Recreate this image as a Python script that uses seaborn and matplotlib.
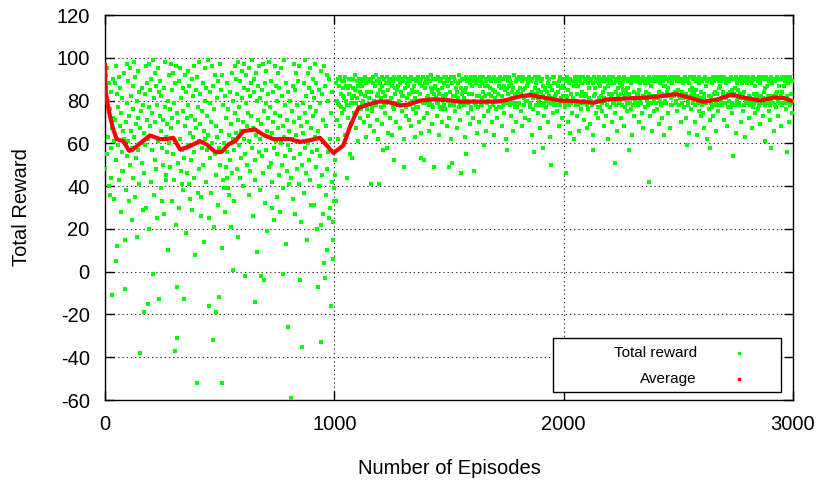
import numpy as np
import pandas as pd
import matplotlib
matplotlib.use("Agg")
import matplotlib.pyplot as plt
import seaborn as sns
from matplotlib.patches import Rectangle
from matplotlib.lines import Line2D

# -----------------------------
# Data (every 2nd episode)
# -----------------------------
# episodes 0..998
reward_early = [
    97, 48, 92, 86, 55, 95, 80, 63, 88, 40, 76, 36, 58, 84, 44, 67, -11, 72, 90, 61,
    34, 88, 71, 96, 52, 5, 83, 12, 77, 59, 91, 43, 68, 86, 28, 74, 47, 56, 81, 66,
    47, 93, 62, 15, -8, 70, 38, 97, 54, 79, 61, 89, 33, 73, 50, 95, 66, 82, 24, 58,
    87, 44, 76, 98, 63, 35, 91, 69, 53, 80, 16, 94, 57, 72, 84, 41, 67, -38, 60, 75,
    51, 86, 29, 78, -19, 65, 46, 83, 59, 96, 30, 71, 88, 62, -15, 97, 77, 20, 85, 68,
    42, 90, 74, 57, 99, -1, 81, 36, 93, 52, 70, 87, 48, 78, 25, 95, 61, 84, -13, 73,
    89, 66, 39, 82, 58, 33, 71, 50, 86, 27, 77, 98, 63, 45, 43, 69, 56, 80, 10, 92,
    60, 76, 49, 97, 67, 85, 33, 72, 55, 93, 79, 43, 88, -37, 22, 96, -31, 74, -7, 51,
    70, 30, 89, 62, 95, 47, 81, 57, 41, 38, 75, 86, -13, 53, 92, 68, 18, 84, 72, 46,
    94, 59, 78, 41, 87, 65, 34, 52, 73, 29, 90, 63, 82, 56, 44, 96, 71, 8, 85, 67,
    -52, 91, 37, 77, 61, 98, 48, 83, 69, 35, 26, 58, 75, 88, 50, 66, 14, 95, 80, 62,
    42, 86, 73, 57, 99, 64, 25, -16, 79, 53, 84, 37, 70, 96, 60, -32, 87, 21, 76, 92,
    55, 68, -19, 45, 81, 63, 89, 31, -12, 58, 97, 50, 85, 66, 11, 92, -52, 43, 78, 39,
    60, 28, 82, 49, 72, 88, 56, 44, 39, 76, 64, 36, 52, 84, 21, 69, 93, 46, 80, 62,
    1, 57, 33, 96, 74, 65, 90, 48, 83, 16, 71, 98, 59, 77, 44, 89, 66, 53, 94, 81,
    70, 40, 86, 62, 97, 55, -2, 79, 92, 68, 50, 85, 74, 36, 95, 61, 82, 47, 88, 73,
    58, 99, 67, 26, 84, 90, 52, -14, 43, 93, 64, 80, 9, 87, 71, 56, 96, 62, 38, 81,
    -2, 69, 54, 85, 46, 97, 75, -4, 88, 32, 79, 94, 57, 66, 19, 83, 72, 49, 98, 63,
    77, 51, 89, 65, 42, 30, 70, 84, 24, 58, 96, 74, 61, 87, 35, 80, 55, 93, 67, 45,
    86, 73, 28, 95, 60, 82, 50, -1, 68, 39, 99, 63, 78, 54, 13, 88, 71, 47, 84, 59,
    -26, 66, 41, 80, 57, -59, 44, 75, 62, 87, 34, 97, 53, 70, 85, 27, 64, 93, 48, 78,
    61, 89, 72, 41, 96, 55, -4, 23, 68, -35, 50, 79, 65, 37, 88, 58, 74, 99, 46, 82,
    70, 15, 93, 60, 86, 52, 77, 95, 43, 67, 31, 84, 56, 90, 73, 31, 81, 63, 97, 49,
    75, 88, 57, 20, -7, 66, 40, 85, 54, 79, 22, 94, -33, 45, 83, 27, 71, 96, 4, -3,
    87, 36, 68, 92, 48, 10, 80, 56, 25, 90, 62, 30, 74, -16, 84, 42, 23, 15, 6, 33,
]

# episodes 1000..2998
reward_late = [
    39, 45, 52, 33, 88, 71, 80, 90, 79, 62, 87, 78, 91, 68, 83, 77, 89, 74, 86, 82,
    89, 76, 81, 91, 64, 87, 80, 44, 78, 72, 86, 90, 78, 83, 55, 87, 69, 79, 81, 53,
    86, 90, 82, 74, 79, 85, 92, 67, 79, 89, 81, 87, 61, 90, 77, 84, 72, 88, 83, 76,
    87, 79, 90, 80, 70, 89, 82, 91, 78, 63, 88, 76, 84, 90, 73, 81, 81, 89, 68, 41,
    90, 84, 77, 75, 91, 88, 80, 66, 87, 79, 92, 78, 89, 71, 82, 83, 62, 90, 41, 88,
    85, 81, 77, 91, 87, 69, 84, 57, 90, 78, 82, 74, 88, 79, 58, 91, 80, 65, 85, 89,
    88, 72, 80, 90, 81, 87, 64, 89, 77, 91, 76, 52, 86, 83, 79, 70, 90, 85, 78, 87,
    91, 79, 80, 67, 88, 84, 90, 75, 82, 89, 82, 62, 49, 86, 91, 78, 77, 73, 88, 81,
    87, 90, 83, 71, 89, 78, 79, 91, 68, 85, 80, 84, 76, 90, 87, 63, 81, 89, 77, 74,
    84, 89, 91, 77, 80, 70, 88, 83, 90, 65, 53, 87, 80, 79, 91, 72, 52, 88, 86, 79,
    90, 81, 74, 88, 82, 91, 78, 66, 89, 80, 86, 92, 78, 84, 69, 77, 90, 49, 83, 87,
    86, 81, 90, 79, 73, 85, 91, 79, 83, 64, 89, 77, 76, 90, 86, 70, 80, 82, 91, 78,
    88, 76, 81, 91, 83, 89, 68, 87, 80, 90, 72, 49, 78, 84, 91, 62, 51, 88, 79, 82,
    91, 78, 82, 89, 75, 86, 80, 84, 67, 88, 81, 92, 77, 79, 89, 71, 86, 46, 83, 90,
    85, 90, 78, 81, 84, 63, 91, 55, 86, 80, 89, 74, 79, 83, 90, 69, 88, 77, 76, 91,
    87, 83, 89, 72, 47, 80, 91, 79, 88, 78, 65, 90, 82, 77, 89, 82, 70, 87, 91, 79,
    90, 78, 81, 88, 84, 91, 73, 59, 87, 82, 89, 66, 79, 90, 80, 87, 75, 83, 91, 77,
    86, 89, 82, 70, 90, 78, 79, 85, 91, 64, 81, 84, 76, 89, 80, 72, 90, 83, 87, 77,
    89, 80, 91, 77, 86, 82, 68, 90, 78, 87, 74, 85, 91, 80, 62, 79, 86, 57, 89, 83,
    87, 91, 80, 78, 89, 73, 88, 84, 81, 66, 86, 79, 92, 77, 83, 70, 89, 82, 77, 90,
    84, 79, 91, 79, 86, 90, 75, 82, 83, 89, 68, 85, 91, 81, 78, 86, 72, 90, 80, 87,
    90, 80, 82, 88, 71, 91, 77, 79, 89, 83, 64, 84, 90, 76, 81, 83, 56, 91, 86, 78,
    88, 83, 90, 74, 81, 85, 91, 80, 78, 67, 89, 84, 78, 90, 58, 87, 82, 79, 73, 86,
    85, 80, 77, 91, 84, 88, 70, 79, 90, 82, 87, 63, 50, 81, 85, 79, 91, 74, 88, 78,
    91, 82, 80, 88, 83, 78, 75, 87, 84, 89, 68, 79, 91, 78, 86, 81, 72, 90, 82, 87,
    86, 90, 79, 77, 89, 46, 82, 91, 81, 85, 70, 88, 78, 90, 65, 83, 79, 89, 74, 80,
    89, 81, 87, 62, 91, 80, 78, 88, 73, 90, 83, 78, 87, 91, 66, 79, 89, 82, 76, 84,
    84, 88, 91, 79, 80, 71, 89, 82, 90, 83, 67, 78, 88, 76, 91, 81, 86, 69, 89, 80,
    90, 79, 78, 88, 64, 57, 82, 91, 83, 86, 74, 89, 80, 90, 77, 72, 88, 81, 91, 77,
    87, 82, 90, 79, 75, 89, 84, 91, 68, 81, 80, 86, 90, 73, 78, 89, 62, 87, 83, 91,
    88, 90, 77, 81, 89, 83, 70, 91, 79, 80, 88, 74, 51, 90, 84, 78, 66, 89, 82, 86,
    91, 80, 88, 79, 83, 90, 72, 87, 78, 89, 85, 68, 91, 77, 82, 84, 90, 75, 86, 79,
    86, 89, 57, 83, 90, 79, 76, 88, 91, 81, 64, 78, 89, 84, 73, 90, 80, 79, 91, 82,
    89, 83, 78, 91, 70, 85, 88, 80, 90, 79, 74, 89, 82, 67, 91, 81, 82, 88, 77, 90,
    84, 90, 80, 78, 88, 91, 42, 83, 89, 73, 87, 79, 90, 66, 82, 89, 80, 91, 75, 81,
    90, 79, 82, 89, 76, 91, 81, 84, 69, 88, 90, 80, 78, 91, 72, 83, 89, 79, 64, 87,
    87, 91, 80, 79, 90, 84, 82, 74, 86, 89, 82, 91, 67, 78, 90, 81, 78, 88, 83, 90,
    91, 82, 84, 90, 79, 80, 89, 83, 75, 91, 85, 78, 82, 90, 81, 70, 89, 84, 79, 79,
    88, 81, 90, 77, 83, 91, 83, 72, 59, 89, 78, 90, 80, 88, 65, 85, 91, 76, 82, 84,
    86, 90, 79, 82, 84, 91, 70, 78, 85, 89, 64, 82, 90, 79, 75, 88, 91, 81, 80, 73,
    84, 89, 78, 74, 90, 83, 81, 67, 91, 79, 79, 87, 62, 89, 80, 90, 76, 82, 71, 58,
    90, 79, 81, 88, 77, 91, 73, 83, 89, 78, 84, 90, 66, 80, 91, 83, 78, 75, 86, 89,
    87, 91, 80, 89, 80, 78, 90, 84, 82, 71, 91, 79, 79, 90, 81, 88, 68, 89, 77, 83,
    89, 80, 90, 84, 77, 91, 79, 85, 74, 82, 54, 90, 83, 78, 86, 65, 91, 80, 88, 81,
    85, 90, 79, 78, 89, 83, 91, 70, 81, 88, 82, 90, 75, 78, 84, 91, 63, 80, 89, 80,
    88, 79, 91, 82, 72, 90, 78, 81, 89, 80, 67, 88, 91, 77, 83, 90, 79, 74, 87, 81,
    90, 80, 83, 89, 76, 91, 78, 88, 69, 82, 90, 82, 79, 91, 73, 81, 84, 90, 61, 78,
    86, 91, 79, 80, 87, 90, 82, 75, 89, 78, 71, 91, 80, 58, 88, 82, 90, 79, 66, 89,
    89, 78, 90, 77, 83, 84, 91, 80, 73, 87, 90, 81, 79, 68, 82, 91, 84, 78, 79, 90,
    87, 90, 81, 89, 76, 91, 79, 82, 56, 88, 90, 80, 70, 78, 91, 79, 83, 89, 74, 80,
]

# running average (red curve)
avg_episode = [0, 1, 3, 8, 22, 36, 51, 80, 105, 120, 153, 196, 240, 269, 298, 327,
               356, 385, 414, 443, 480, 509, 538, 567, 603, 654, 690, 734, 770, 807,
               850, 894, 937, 967, 996, 1039, 1069, 1105, 1142, 1192, 1229, 1287,
               1330, 1374, 1432, 1490, 1548, 1621, 1708, 1752, 1810, 1854, 1912,
               1985, 2057, 2130, 2188, 2275, 2363, 2421, 2493, 2537, 2610, 2668,
               2733, 2784, 2857, 2915, 2959, 3000]
avg_reward = [97, 90, 85, 80, 72.6, 66.5, 62, 61, 56.5, 57, 60, 63.7, 62, 62, 62.6,
              57.2, 58, 59.5, 61, 59.5, 56, 56, 59.5, 61, 65.7, 66.5, 64, 62, 62, 62,
              60.6, 61.5, 62.6, 59, 55.5, 59, 68, 76.5, 78, 79.5, 79.5, 77.7, 78.3,
              80, 80.6, 80.3, 79.5, 79.5, 79.5, 80.3, 82, 82.6, 81.4, 80, 79.7, 79,
              80.5, 81, 81.4, 82, 83, 81.7, 79.4, 80.5, 82.8, 81.4, 80, 81.4, 81.2,
              79.7]

df = pd.DataFrame({
    "episode": np.concatenate([2 * np.arange(len(reward_early)),
                               1000 + 2 * np.arange(len(reward_late))]),
    "reward": reward_early + reward_late,
})
avg_df = pd.DataFrame({"episode": avg_episode, "reward": avg_reward})

# -----------------------------
# Plot
# -----------------------------
sns.set_style("ticks")
plt.rcParams["font.family"] = ["Liberation Sans", "DejaVu Sans"]
plt.rcParams["axes.unicode_minus"] = False
plt.rcParams["text.color"] = "black"
plt.rcParams["axes.labelcolor"] = "black"

fig = plt.figure(figsize=(8.21, 4.83), dpi=100)
ax = fig.add_axes([0.1279, 0.1718, 0.838, 0.7971])

sns.scatterplot(data=df, x="episode", y="reward", color="#00ff00", marker="s",
                s=5, linewidth=0, ax=ax, legend=False, zorder=3)
sns.lineplot(data=avg_df, x="episode", y="reward", color="#ff0000", lw=3,
             ax=ax, zorder=4)

ax.set_xlim(0, 3000)
ax.set_ylim(-60, 120)
ax.set_xticks([0, 1000, 2000, 3000])
ax.set_yticks(range(-60, 121, 20))
ax.grid(True, color="#303030", linestyle=(0, (1.2, 2.6)), linewidth=0.8)
ax.set_axisbelow(True)
for s in ax.spines.values():
    s.set_color("black")
    s.set_linewidth(1.0)
ax.tick_params(direction="in", length=6.5, width=1, top=True, right=True,
               labelsize=14.5, colors="black")
ax.tick_params(axis="x", pad=10.5)
ax.tick_params(axis="y", pad=11)

ax.set_xlabel("Number of Episodes", fontsize=14.5, color="black")
ax.set_ylabel("Total Reward", fontsize=14.5, color="black")
ax.xaxis.set_label_coords(0.5, -0.153)
ax.yaxis.set_label_coords(-0.107, 0.5)

# gnuplot-like key box, text right aligned
ax.add_patch(Rectangle((0.6516, 0.0208), 0.3305, 0.1395, transform=ax.transAxes,
                       facecolor="white", edgecolor="black", lw=1.0, zorder=6))
ax.text(0.8605, 0.1221, "Total reward", transform=ax.transAxes, ha="right",
        va="center", fontsize=11, zorder=7)
ax.text(0.8605, 0.0545, "Average", transform=ax.transAxes, ha="right",
        va="center", fontsize=11, zorder=7)
ax.add_line(Line2D([0.9215], [0.1221], transform=ax.transAxes, marker="s",
                   ms=1.6, color="#00ff00", lw=0, zorder=7))
ax.add_line(Line2D([0.9215], [0.0545], transform=ax.transAxes, marker="s",
                   ms=1.6, color="#ff0000", lw=0, zorder=7))

fig.savefig("out.png", dpi=100)
